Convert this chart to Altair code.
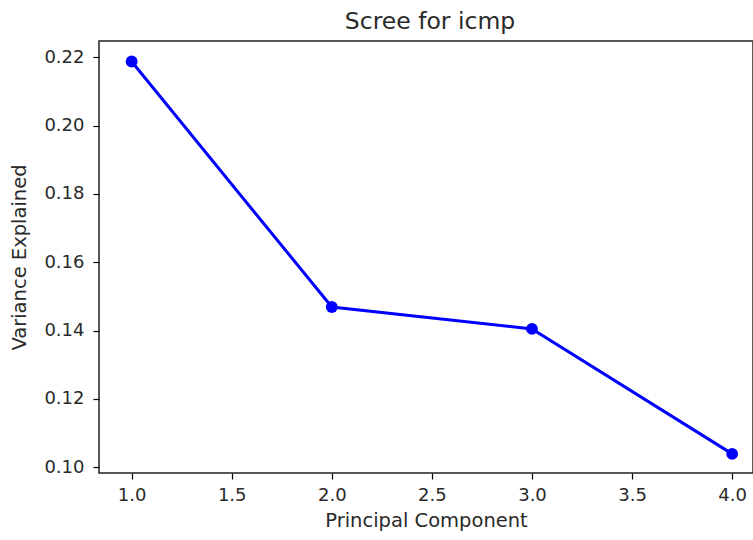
import altair as alt
import pandas as pd

components = [1, 2, 3, 4]
variance = [0.2188, 0.1469, 0.1405, 0.1039]
x_ticks = [1.0, 1.5, 2.0, 2.5, 3.0, 3.5, 4.0]
y_ticks = [0.10, 0.12, 0.14, 0.16, 0.18, 0.20, 0.22]

df = pd.DataFrame({"pc": components, "var": variance})

FONT = "DejaVu Sans"

x = alt.X("pc:Q", title="Principal Component",
          scale=alt.Scale(domain=[0.837, 4.104], nice=False, zero=False),
          axis=alt.Axis(values=x_ticks, format=".1f", grid=False, domain=False,
                        tickColor="#000", tickSize=6, tickWidth=1.2,
                        labelPadding=7, labelFontSize=18, labelColor="#2a2a2a",
                        labelFont=FONT, titleFont=FONT, titleFontSize=19.5,
                        titleFontWeight="normal", titleColor="#2a2a2a",
                        titlePadding=7))
y = alt.Y("var:Q", title="Variance Explained",
          scale=alt.Scale(domain=[0.0983, 0.2248], nice=False, zero=False),
          axis=alt.Axis(values=y_ticks, format=".2f", grid=False, domain=False,
                        tickColor="#000", tickSize=6, tickWidth=1.2,
                        labelPadding=9, labelFontSize=18, labelColor="#2a2a2a",
                        labelFont=FONT, titleFont=FONT, titleFontSize=19.5,
                        titleFontWeight="normal", titleColor="#2a2a2a",
                        titlePadding=14))

base = alt.Chart(df).encode(x=x, y=y)
line = base.mark_line(color="#0000ff", strokeWidth=3)
points = base.mark_point(filled=True, color="#0000ff", size=140, opacity=1)

chart = (line + points).properties(
    width=654,
    height=432,
    title=alt.TitleParams("Scree for icmp", font=FONT, fontSize=23.5,
                          fontWeight="normal", color="#2a2a2a", offset=8, dx=4),
    autosize=alt.AutoSizeParams(type="none"),
    padding={"left": 99, "top": 41, "right": 0, "bottom": 67},
).configure(background="white").configure_view(stroke="#222", strokeWidth=1.5)

chart.save("out.html", embed_options={"renderer": "svg", "actions": False})
